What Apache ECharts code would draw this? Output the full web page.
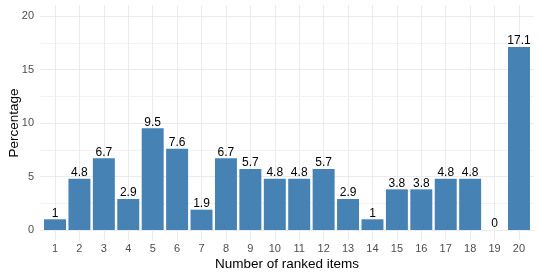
<!DOCTYPE html>
<html>
<head>
<meta charset="utf-8">
<script src="https://cdn.jsdelivr.net/npm/echarts@6/dist/echarts.min.js"></script>
<style>html,body{margin:0;padding:0;background:#fff}#c{width:540px;height:280px}</style>
</head>
<body>
<div id="c"></div>
<script>
const categories = ['1','2','3','4','5','6','7','8','9','10','11','12','13','14','15','16','17','18','19','20'];
const values = [1, 4.8, 6.7, 2.9, 9.5, 7.6, 1.9, 6.7, 5.7, 4.8, 4.8, 5.7, 2.9, 1, 3.8, 3.8, 4.8, 4.8, 0, 17.1];
const yTicks = [0, 5, 10, 15, 20];
const xTitle = 'Number of ranked items';
const yTitle = 'Percentage';

const FONT = '"Liberation Sans", Arial, sans-serif';
const chart = echarts.init(document.getElementById('c'), null, {renderer: 'canvas'});
const hidden = {show: false};
chart.setOption({
  animation: false,
  backgroundColor: '#fff',
  grid: [
    {left: 42.8, right: 8.8, top: 16, bottom: 50, containLabel: false, outerBoundsMode: 'none'},
    {left: 40, right: 6, top: 16, bottom: 50, containLabel: false, outerBoundsMode: 'none'},
    {left: 55, right: 21, top: 5.3, bottom: 39.3, containLabel: false, outerBoundsMode: 'none'}
  ],
  xAxis: [
    {type: 'category', gridIndex: 0, data: categories,
     axisLine: hidden, axisTick: hidden, splitLine: hidden,
     axisLabel: {color: '#4D4D4D', fontSize: 11, fontFamily: FONT, margin: 13, interval: 0},
     name: xTitle, nameLocation: 'middle', nameGap: 27, nameMoveOverlap: false,
     nameTextStyle: {color: '#000', fontSize: 13.5, fontFamily: FONT}},
    {type: 'value', gridIndex: 1, min: 0, max: 1, show: false},
    {type: 'value', gridIndex: 2, min: 1, max: 20, interval: 1,
     axisLine: hidden, axisTick: hidden, axisLabel: hidden,
     splitLine: {show: true, lineStyle: {color: '#EBEBEB', width: 1}}}
  ],
  yAxis: [
    {type: 'value', gridIndex: 0, min: yTicks[0], max: yTicks[yTicks.length-1], interval: 5,
     axisLine: hidden, axisTick: hidden, axisLabel: hidden, splitLine: hidden},
    {type: 'value', gridIndex: 1, min: yTicks[0], max: yTicks[yTicks.length-1], interval: 5,
     axisLine: hidden, axisTick: hidden,
     axisLabel: {color: '#4D4D4D', fontSize: 11, fontFamily: FONT, margin: 6, align: 'right'},
     splitLine: {show: true, lineStyle: {color: '#EBEBEB', width: 1}},
     minorTick: {show: false, splitNumber: 2},
     minorSplitLine: {show: true, lineStyle: {color: '#F2F2F2', width: 1}},
     name: yTitle, nameLocation: 'middle', nameGap: 19, nameMoveOverlap: false,
     nameTextStyle: {color: '#000', fontSize: 13.5, fontFamily: FONT}},
    {type: 'value', gridIndex: 2, min: 0, max: 1, show: false}
  ],
  series: [{
    type: 'bar', xAxisIndex: 0, yAxisIndex: 0,
    data: values, barWidth: '90%',
    itemStyle: {color: '#4682B4'},
    label: {show: true, position: 'top', distance: 0, color: '#000', fontSize: 12, fontFamily: FONT}
  }]
});
</script>
</body>
</html>
